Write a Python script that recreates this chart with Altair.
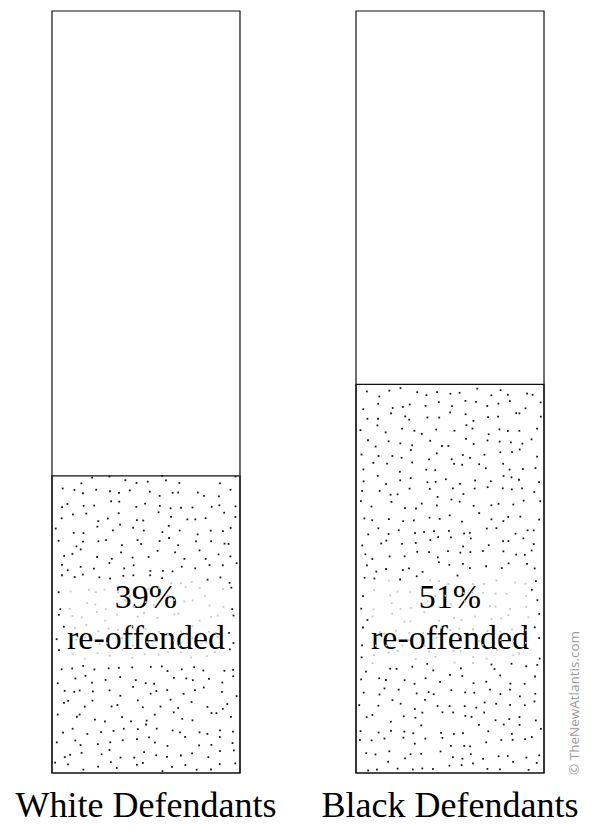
import altair as alt
import pandas as pd

categories = ["White Defendants", "Black Defendants"]
reoffended = [39, 51]
line2 = "re-offended"
credit = "© TheNewAtlantis.com"

df = pd.DataFrame({"cat": categories, "idx": [0, 1], "value": reoffended, "full": [100, 100]})

serif = "Liberation Serif, Times New Roman, serif"

P_IN = 0.3816
P_OUT = 0.1447
SPAN = 2 - P_IN + 2 * P_OUT  # plot width in units of band step

x = alt.X(
    "cat:N",
    sort=categories,
    scale=alt.Scale(type="band", paddingInner=P_IN, paddingOuter=P_OUT),
    axis=alt.Axis(
        title=None, domain=False, ticks=False, tickSize=0, labelPadding=43,
        labelBaseline="alphabetic", labelFont=serif, labelFontSize=36,
        labelColor="#000", labelAngle=0, labelLimit=0,
    ),
)
yscale = alt.Scale(domain=[0, 100], nice=False, zero=True)

base = alt.Chart(df)

frame = base.mark_bar(fill="white", stroke="#111", strokeWidth=1.2).encode(
    x=x,
    y=alt.Y("full:Q", scale=yscale, axis=None),
)

# stipple texture for the re-offended share (jittered grid, deterministic)
dots = (
    alt.Chart(alt.sequence(0, 1830, as_="i"))
    .transform_calculate(
        cat=f"datum.i % 2 == 0 ? '{categories[0]}' : '{categories[1]}'",
        cell="floor(datum.i / 2)",
    )
    .transform_calculate(
        col="datum.cell % 15",
        row="floor(datum.cell / 15)",
        jx="abs(sin(datum.i * 12.9898) * 43758.5453) % 1",
        jy="abs(sin(datum.i * 78.233 + 1.3) * 24634.6345) % 1",
    )
    .transform_calculate(
        xf="(datum.col + 0.1 + 0.8 * datum.jx) / 15",
        yv="(datum.row + 0.1 + 0.8 * datum.jy) * 100 / 61",
    )
    .transform_lookup(
        lookup="cat", from_=alt.LookupData(data=df, key="cat", fields=["value", "idx"])
    )
    .transform_filter("datum.yv < datum.value")
    .transform_calculate(
        pos=f"{P_OUT} + datum.idx + (0.01 + 0.98 * datum.xf) * {1 - P_IN}",
        light="datum.yv > 14.4 && datum.yv < 25.3 && datum.xf > 0.07 && datum.xf < 0.93 ? 'l' : 'd'",
    )
    .mark_square(size=3.2, opacity=1)
    .encode(
        x=alt.X("pos:Q", scale=alt.Scale(domain=[0, SPAN], nice=False, zero=False), axis=None),
        y=alt.Y("yv:Q", scale=yscale, axis=None),
        color=alt.Color(
            "light:N",
            scale=alt.Scale(domain=["d", "l"], range=["#151515", "#c4c4c4"]),
            legend=None,
        ),
    )
)

lower = base.mark_bar(fillOpacity=0, stroke="#111", strokeWidth=1.2).encode(
    x=x,
    y=alt.Y("value:Q", scale=yscale, axis=None),
)

pct = base.transform_calculate(label="datum.value + '%'").mark_text(
    font=serif, fontSize=34, baseline="alphabetic", color="#000"
).encode(x=x, y=alt.value(597), text="label:N")

txt2 = base.transform_calculate(label=f"'{line2}'").mark_text(
    font=serif, fontSize=34, baseline="alphabetic", color="#000"
).encode(x=x, y=alt.value(638), text="label:N")

cr = alt.Chart(pd.DataFrame({"t": [credit]})).mark_text(
    font="Open Sans", fontSize=13.5, angle=270, align="left", baseline="middle",
    color="#9a9a9a",
).encode(x=alt.value(567), y=alt.value(764), text="t:N")

chart = (
    alt.layer(alt.layer(frame, lower, pct, txt2).resolve_scale(x="shared"), dots, cr)
    .resolve_scale(x="independent")
    .properties(
        width=580,
        height=762,
        padding={"top": 3, "left": 0, "right": 0, "bottom": 60},
        autosize=alt.AutoSizeParams(type="none"),
        background="white",
    )
    .configure_view(stroke=None)
)

chart.save("out.html", embed_options={"renderer": "svg", "actions": False})
